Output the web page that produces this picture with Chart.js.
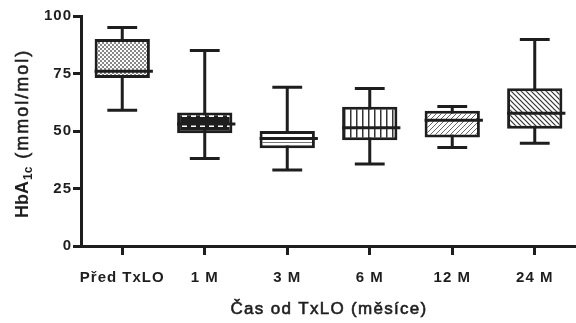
<!DOCTYPE html>
<html>
<head>
<meta charset="utf-8">
<script src="https://cdn.jsdelivr.net/npm/chart.js@4"></script>
<style>
  body { margin: 0; background: #fff; }
  canvas { display: block; }
</style>
</head>
<body>
<canvas id="graf" width="576" height="323"></canvas>
<script>
// data
const categories = ['Před TxLO', '1 M', '3 M', '6 M', '12 M', '24 M'];
const minVals    = [59, 38, 33, 35.7, 42.8, 44.7];
const q1Vals     = [73, 49, 42.5, 46, 47.2, 51];
const medianVals = [76, 53, 46.7, 51.4, 54.7, 57.7];
const q3Vals     = [90, 58, 50, 60.5, 58.8, 68.6];
const maxVals    = [95, 85, 69, 68.5, 60.7, 89.8];
const yTicks     = [0, 25, 50, 75, 100];

const INK = '#1e1e1e';
const FONT = '"Liberation Sans", Arial, sans-serif';

function makePattern(w, h, paint) {
    const c = document.createElement('canvas');
    c.width = w; c.height = h;
    const g = c.getContext('2d');
    paint(g, w, h);
    return g.createPattern(c, 'repeat');
}

const ctx = document.getElementById('graf').getContext('2d');

const patterns = [
    // fine stipple
    makePattern(4, 4, (g) => {
        g.fillStyle = '#fff'; g.fillRect(0, 0, 4, 4);
        g.fillStyle = '#888';
        g.fillRect(0, 0, 2, 2); g.fillRect(2, 2, 2, 2);
    }),
    // dark with white squares
    makePattern(9, 10, (g) => {
        g.fillStyle = INK; g.fillRect(0, 0, 9, 10);
        g.fillStyle = '#fff'; g.fillRect(2, 3, 5, 4);
    }),
    // horizontal lines
    makePattern(5, 5, (g) => {
        g.fillStyle = '#fff'; g.fillRect(0, 0, 5, 5);
        g.fillStyle = '#777'; g.fillRect(0, 2, 5, 1);
    }),
    // vertical lines
    makePattern(6, 6, (g) => {
        g.fillStyle = '#fff'; g.fillRect(0, 0, 6, 6);
        g.fillStyle = '#333'; g.fillRect(2, 0, 1.5, 6);
    }),
    // thin "/" hatch
    makePattern(5, 5, (g) => {
        g.fillStyle = '#fff'; g.fillRect(0, 0, 5, 5);
        g.strokeStyle = '#666'; g.lineWidth = 1;
        g.beginPath();
        g.moveTo(0, 5); g.lineTo(5, 0);
        g.moveTo(-1, 1); g.lineTo(1, -1);
        g.moveTo(4, 6); g.lineTo(6, 4);
        g.stroke();
    }),
    // "\" hatch
    makePattern(5, 5, (g) => {
        g.fillStyle = '#fff'; g.fillRect(0, 0, 5, 5);
        g.strokeStyle = '#333'; g.lineWidth = 1.2;
        g.beginPath();
        g.moveTo(0, 0); g.lineTo(5, 5);
        g.moveTo(4, -1); g.lineTo(6, 1);
        g.moveTo(-1, 4); g.lineTo(1, 6);
        g.stroke();
    })
];

const boxData = categories.map((c, i) => [q1Vals[i], q3Vals[i]]);

const spacing = {
    id: 'spacing',
    beforeUpdate(chart) { chart.ctx.letterSpacing = '1px'; },
    beforeDraw(chart) { chart.ctx.letterSpacing = '1px'; }
};

// whiskers behind boxes, medians on top
const whiskers = {
    id: 'whiskers',
    beforeDatasetsDraw(chart) {
        const c = chart.ctx, x = chart.scales.x, y = chart.scales.y;
        const bars = chart.getDatasetMeta(0).data;
        c.save();
        c.strokeStyle = INK;
        c.lineWidth = 3;
        categories.forEach((cat, i) => {
            const px = x.getPixelForValue(i);
            const half = bars[i].width * 0.27;
            const yMin = y.getPixelForValue(minVals[i]);
            const yMax = y.getPixelForValue(maxVals[i]);
            c.beginPath();
            c.moveTo(px, yMin); c.lineTo(px, yMax);
            c.moveTo(px - half, yMin); c.lineTo(px + half, yMin);
            c.moveTo(px - half, yMax); c.lineTo(px + half, yMax);
            c.stroke();
        });
        c.restore();
    },
    afterDatasetsDraw(chart) {
        const c = chart.ctx, x = chart.scales.x, y = chart.scales.y;
        const bars = chart.getDatasetMeta(0).data;
        c.save();
        c.strokeStyle = INK;
        c.lineWidth = 3;
        categories.forEach((cat, i) => {
            const px = x.getPixelForValue(i);
            const half = bars[i].width / 2;
            const ym = y.getPixelForValue(medianVals[i]);
            c.beginPath();
            c.moveTo(px - half, ym); c.lineTo(px + half + 3, ym);
            c.stroke();
        });
        c.restore();
    }
};

const titles = {
    id: 'titles',
    afterDraw(chart) {
        const c = chart.ctx;
        c.save();
        c.fillStyle = INK;
        c.strokeStyle = INK;
        c.textBaseline = 'alphabetic';
        c.textAlign = 'left';
        // y title with subscript
        c.translate(28, 218);
        c.rotate(-Math.PI / 2);
        c.letterSpacing = '0px';
        c.font = 'bold 18px ' + FONT;
        c.fillText('HbA', 0, 0);
        let w = c.measureText('HbA').width;
        c.font = 'bold 12px ' + FONT;
        c.fillText('1c', w + 1, 4);
        w += c.measureText('1c').width + 1;
        c.font = '18px ' + FONT;
        c.letterSpacing = '2px';
        c.lineWidth = 0.6;
        c.fillText('(mmol/mol)', w + 8, 0);
        c.strokeText('(mmol/mol)', w + 8, 0);
        c.restore();

        c.save();
        c.fillStyle = INK;
        c.strokeStyle = INK;
        c.lineWidth = 0.6;
        c.font = '17px ' + FONT;
        c.letterSpacing = '1.3px';
        c.textAlign = 'center';
        c.textBaseline = 'middle';
        c.fillText('Čas od TxLO (měsíce)', 329, 309);
        c.strokeText('Čas od TxLO (měsíce)', 329, 309);
        c.restore();
    }
};

const chart = new Chart(ctx, {
    type: 'bar',
    data: {
        labels: categories,
        datasets: [{
            data: boxData,
            backgroundColor: patterns,
            borderColor: INK,
            borderWidth: 3,
            borderSkipped: false,
            barPercentage: 0.67,
            categoryPercentage: 1
        }]
    },
    options: {
        responsive: false,
        animation: false,
        events: [],
        layout: { padding: { top: 16, right: 0, left: 0, bottom: 0 } },
        plugins: {
            legend: { display: false },
            tooltip: { enabled: false }
        },
        scales: {
            x: {
                offset: true,
                grid: { offset: false, drawOnChartArea: false, drawTicks: true, tickLength: 9, tickWidth: 3, tickColor: INK },
                border: { display: true, width: 3, color: INK },
                ticks: {
                    color: INK, padding: 14, maxRotation: 0, minRotation: 0, autoSkip: false,
                    font: { family: FONT, size: 15, weight: 'bold' }
                },
                afterFit(s) { s.height = 77; }
            },
            y: {
                min: 0,
                max: 100,
                afterBuildTicks(s) { s.ticks = yTicks.map(v => ({ value: v })); },
                grid: { drawOnChartArea: false, drawTicks: true, tickLength: 8, tickWidth: 3, tickColor: INK },
                border: { display: true, width: 3, color: INK },
                ticks: { color: INK, padding: 1, font: { family: FONT, size: 15, weight: 'bold' } },
                afterFit(s) { s.width = 81; }
            }
        }
    },
    plugins: [spacing, whiskers, titles]
});
</script>
</body>
</html>
